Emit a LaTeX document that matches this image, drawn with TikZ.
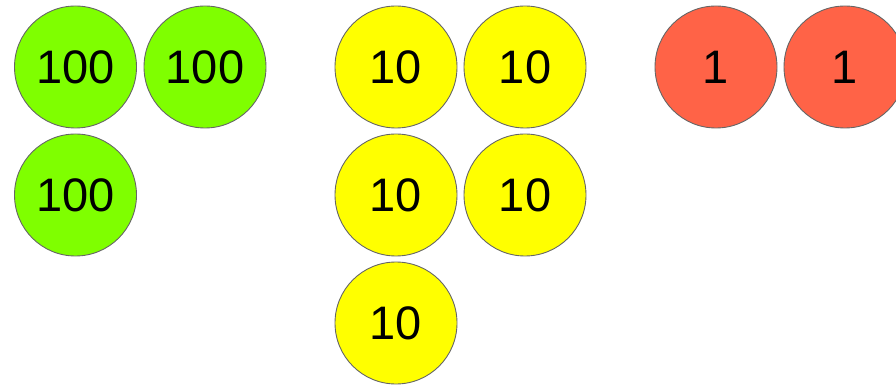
\documentclass[tikz,border=0pt]{standalone}
\usepackage{fontspec}
\setmainfont{Liberation Sans}
\usepackage{tikz}
\usetikzlibrary{positioning}
\definecolor{hundredgreen}{RGB}{127, 255, 0}
\definecolor{tenyellow}{RGB}{255, 255, 0}
\definecolor{onered}{RGB}{255, 99, 71}
\definecolor{rimgray}{RGB}{102, 102, 102}

\tikzset{
    coin/.style={circle, draw=rimgray, line width=0.9pt, minimum size=122pt, inner sep=0pt,
        font=\fontsize{47}{47}\selectfont, text=black}
}

\begin{document}
\begin{tikzpicture}[x=1pt, y=-1pt]
    \useasboundingbox (0, 0) rectangle (896, 387);
    \clip (0, 0) rectangle (896, 387);

    % Hundreds
    \node[coin, fill=hundredgreen] (h1) at (75.5, 67) {100};
    \node[coin, fill=hundredgreen] (h2) at (205, 67) {100};
    \node[coin, fill=hundredgreen] (h3) at (75.5, 195) {100};

    % Tens
    \node[coin, fill=tenyellow] (t1) at (396, 67) {10};
    \node[coin, fill=tenyellow] (t2) at (525, 67) {10};
    \node[coin, fill=tenyellow] (t3) at (396, 195) {10};
    \node[coin, fill=tenyellow] (t4) at (525, 195) {10};
    \node[coin, fill=tenyellow] (t5) at (396, 323) {10};

    % Ones
    \node[coin, fill=onered] (o1) at (716, 67) {1};
    \node[coin, fill=onered] (o2) at (845, 67) {1};
\end{tikzpicture}
\end{document}
